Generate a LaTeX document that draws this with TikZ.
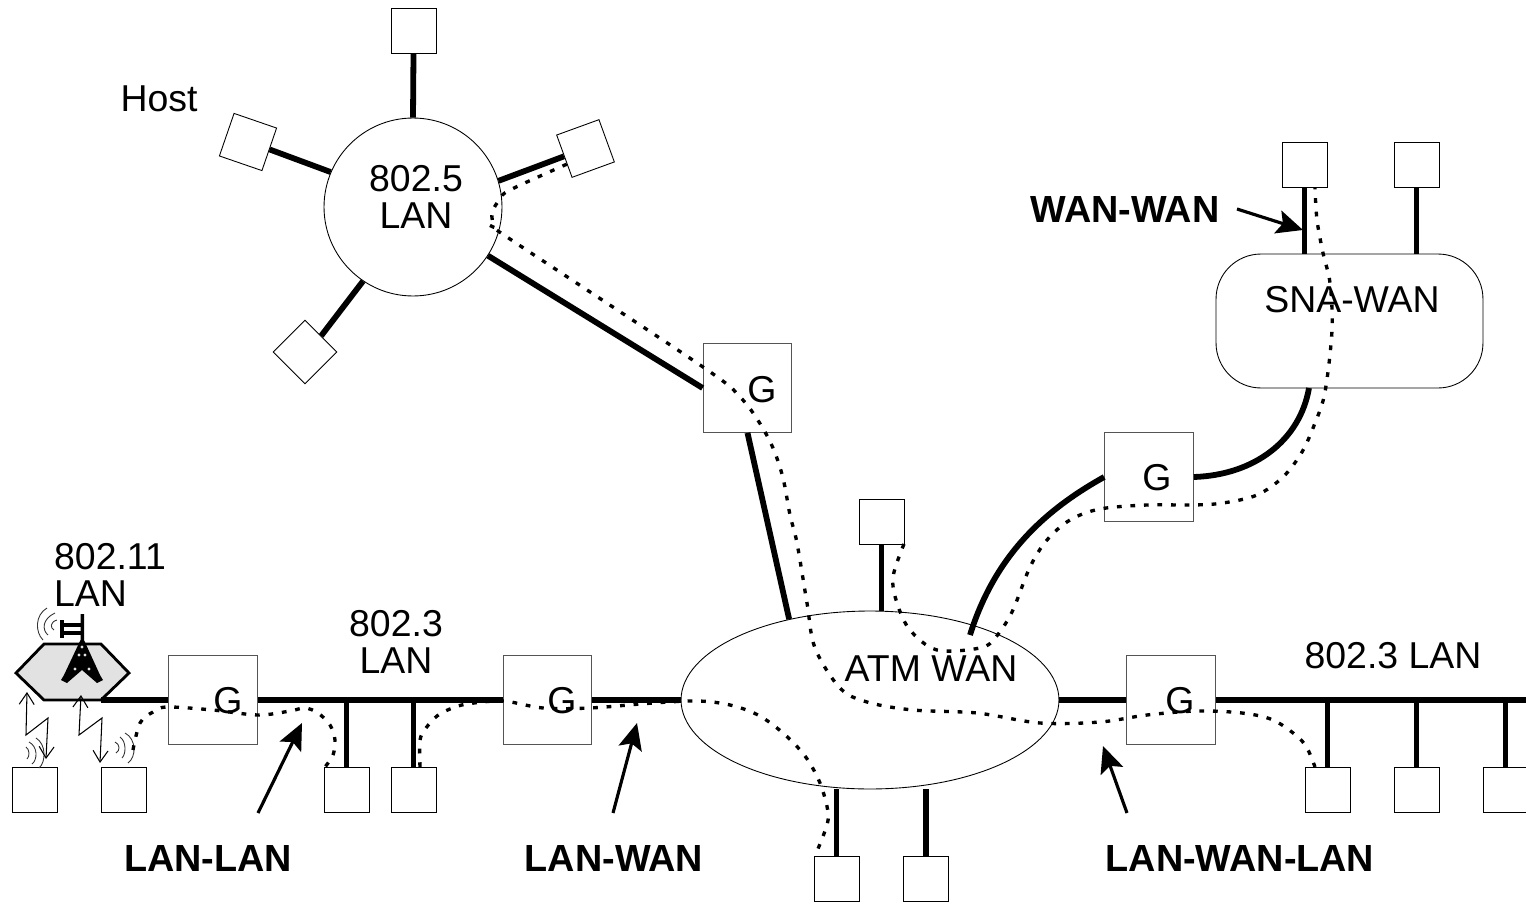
\documentclass[tikz,border=0pt]{standalone}
\usepackage{fontspec}
\setmainfont{Liberation Sans}
\usepackage{xcolor}
\usetikzlibrary{arrows.meta,shapes.geometric,calc}
\definecolor{apgray}{HTML}{E2E2E2}
\definecolor{boxgray}{HTML}{555555}
\begin{document}
\begin{tikzpicture}[
    x=0.02cm, y=-0.02cm,
    txt/.style={font=\fontsize{21.3}{21}\selectfont, inner sep=0pt, align=center},
    bold/.style={font=\fontsize{21.5}{21}\selectfont\bfseries, inner sep=0pt},
    host/.style={draw, line width=0.5pt, fill=white, minimum size=0.9cm, inner sep=0pt},
    gate/.style={draw=boxgray, line width=0.7pt, fill=white, minimum size=1.77cm, inner sep=0pt},
    link/.style={line width=3.3pt},
    route/.style={line width=1.9pt, dash pattern=on 2.7pt off 5pt},
    callout/.style={line width=1.8pt, -{Stealth[length=15pt,width=13.5pt,inset=3pt]}},
    wave/.style={line width=0.5pt, black!80},
    bolt/.style={line width=0.6pt, {Straight Barb[length=6.5pt,width=8.5pt]}-{Straight Barb[length=6.5pt,width=8.5pt]}},
]
\clip (0,0) rectangle (1526,903);

% clouds
\node[draw, line width=0.5pt, circle, minimum size=3.56cm] (lanRing) at (413,207) {};
\node[draw, line width=0.5pt, ellipse, minimum width=7.56cm, minimum height=3.56cm, inner sep=0pt] (wanAtm) at (870,700) {};
\node[draw, line width=0.5pt, rectangle, rounded corners=0.9cm, minimum width=5.34cm, minimum height=2.68cm] (wanSna) at (1349.5,321) {};

% hosts
\foreach \n/\x/\y in {hostTop/413.5/31, hostAtm/881.5/521.5, hostSnaA/1304.5/164.5, hostSnaB/1416.5/164.5,
    hostWiA/34.5/789.5, hostWiB/124/789.5, hostLanA/346.5/789.5, hostLanB/413.5/789.5,
    hostRA/1327.5/789.5, hostRB/1416.5/789.5, hostRC/1505.5/789.5, hostBotA/836.5/878.5, hostBotB/926/878.5} {
    \node[host] (\n) at (\x,\y) {};
}
\node[host, rotate=-19] (hostLeft) at (248,142) {};
\node[host, rotate=20] (hostRight) at (585.5,148.5) {};
\node[host, rotate=45] (hostLow) at (305,352) {};

% gateways
\foreach \n/\x/\y in {gTop/747.5/388, gSna/1149/477, gLanA/213/700, gLanB/547.5/700, gLanC/1171/700} {
    \node[gate] (\n) at (\x,\y) {};
}

% access point
\coordinate (apBus) at (101,700);
\draw[line width=1.6pt, fill=apgray] (16,673) -- (44,644) -- (101,644) -- (129,673) -- (101,700) -- (44,700) -- cycle;
\fill (80.5,614) -- (84,614) -- (84,640) -- (100,675) -- (103,680) -- (97,683) -- (82,670) -- (67,683) -- (61,680) -- (64,675) -- (80.5,640) -- cycle;
\foreach \x/\y in {79/655, 85/655, 75/669, 89/669, 82/647} {
    \fill[apgray] (\x,\y) circle[radius=1.7];
}
\draw[line width=1.8pt] (62,625) -- (82,625) (62,633) -- (82,633);
\draw[line width=2.2pt] (62,620) -- (62,638);

% radio waves
\draw[wave] (47,608) .. controls (35,615) and (35,632) .. (43,640);
\draw[wave] (55,613) .. controls (42,619) and (42,630) .. (48,635);
\draw[wave] (57,620) .. controls (50,622) and (50,628) .. (54,630);
\foreach \a/\b/\c/\d/\e in {26/747/29.8/27/759, 29/742/37.8/32/764, 36/738/46.2/39/768,
    115/742/120.2/116/753, 120/737/126.3/122/758, 125/733/136.5/128/763} {
    \draw[wave] (\a,\b) .. controls (\c,{\b+(\e-\b)*0.2}) and (\c,{\b+(\e-\b)*0.8}) .. (\d,\e);
}
\draw[bolt] (27,692) -- (26,735) -- (48,718) -- (46,759);
\draw[bolt] (81,695) -- (79,735) -- (102,718) -- (100,763);

% links
\draw[link] (hostTop.south) -- (lanRing.north);
\draw[link] (hostLeft.east) -- (lanRing.157);
\draw[link] (hostRight.west) -- (lanRing.17);
\draw[link] (hostLow.east) -- (lanRing.236);
\draw[link] (lanRing.-33) -- (gTop.west);
\draw[link] (gTop.south) -- (wanAtm.135);
\draw[link] (hostAtm.south) -- (hostAtm.south |- wanAtm.north);
\coordinate (wanGate) at (970,635);
\draw[link] (wanGate) .. controls (995,555) and (1045,510) .. (gSna.west);
\draw[link] (gSna.east) .. controls (1255,475) and (1300,440) .. (1309,388);
\foreach \n in {hostSnaA, hostSnaB} {
    \draw[link] (\n.south) -- (\n.south |- wanSna.north);
}
\draw[link] (apBus) -- (gLanA.west);
\draw[link] (gLanA.east) -- (gLanB.west);
\draw[link] (gLanB.east) -- (wanAtm.west);
\draw[link] (wanAtm.east) -- (gLanC.west);
\coordinate (busEnd) at (1526,700);
\draw[link] (gLanC.east) -- (busEnd);
\foreach \n in {hostLanA, hostLanB, hostRA, hostRB, hostRC} {
    \draw[link] (\n.north) -- (\n.north |- gLanA.east);
}
\foreach \n in {hostBotA, hostBotB} {
    \draw[link] (\n.north) -- (\n.north |- wanAtm.south);
}

% dotted routes
\draw[route] plot[smooth, tension=0.55] coordinates {(hostRight.-160) (510,190) (500,199) (492,213) (495,227) (507,237)
    (703,367) (740,397) (759,422) (773,448) (783,478) (790,515) (797,543) (807,603) (815,648) (840,688) (867,702)
    (913,710) (977,713) (1040,723) (1100,722) (1147,715) (1197,711) (1242,713) (1273,720) (1298,737) (1308,750) (1315,767)};
\draw[route] plot[smooth, tension=0.55] coordinates {(133,750) (140,723) (153,712) (167,707) (213,710) (258,715)
    (290,711) (305,708) (318,713) (330,725) (335,740) (333,755) (325,767)};
\draw[route] plot[smooth, tension=0.55] coordinates {(420,767) (420,740) (426,728) (437,716) (450,709) (467,704) (503,701)
    (543,708) (590,708) (653,703) (698,701) (730,705) (758,715) (783,733) (805,756) (820,783) (828,812) (826,828) (815,856)};
\draw[route] plot[smooth, tension=0.55] coordinates {(904,544) (893,577) (897,603) (910,630) (937,650) (980,648) (995,638)
    (1012,612) (1030,567) (1047,540) (1070,520) (1100,509) (1147,505) (1193,505) (1223,503) (1257,495) (1283,477)
    (1302,452) (1315,423) (1325,392) (1332,330) (1330,283) (1323,253) (1317,220) (1315,188)};

% callouts
\foreach \n/\x/\y in {lanLanA/258/813, lanLanB/302/723, lanWanA/613/813, lanWanB/637/723,
    lwlA/1127/813, lwlB/1103/746, wanWanA/1237/209, wanWanB/1303/230} {
    \coordinate (\n) at (\x,\y);
}
\draw[callout] (lanLanA) -- (lanLanB);
\draw[callout] (lanWanA) -- (lanWanB);
\draw[callout] (lwlA) -- (lwlB);
\draw[callout] (wanWanA) -- (wanWanB);

% labels
\node[txt] (lblHost) at (159,99) {Host};
\node[txt] (lblRing) at (416,197) {802.5\\LAN};
\node[txt, align=left] (lblWifi) at (110,575) {802.11\\LAN};
\node[txt] (lblLanA) at (396,642) {802.3\\LAN};
\node[txt] (lblLanB) at (1393,656) {802.3 LAN};
\node[txt] (lblAtm) at (931,669) {ATM WAN};
\node[txt] (lblSna) at (1352,300) {SNA-WAN};
\foreach \n/\x/\y in {gTop/762/390, gSna/1157/478, gLanA/228/701, gLanB/562/701, gLanC/1180/701} {
    \node[txt] (\n G) at (\x,\y) {G};
}
\node[bold] (lblLanLan) at (208,858) {LAN-LAN};
\node[bold] (lblLanWan) at (614,858) {LAN-WAN};
\node[bold] (lblLwl) at (1240,858) {LAN-WAN-LAN};
\node[bold] (lblWanWan) at (1125,210) {WAN-WAN};
\end{tikzpicture}
\end{document}
